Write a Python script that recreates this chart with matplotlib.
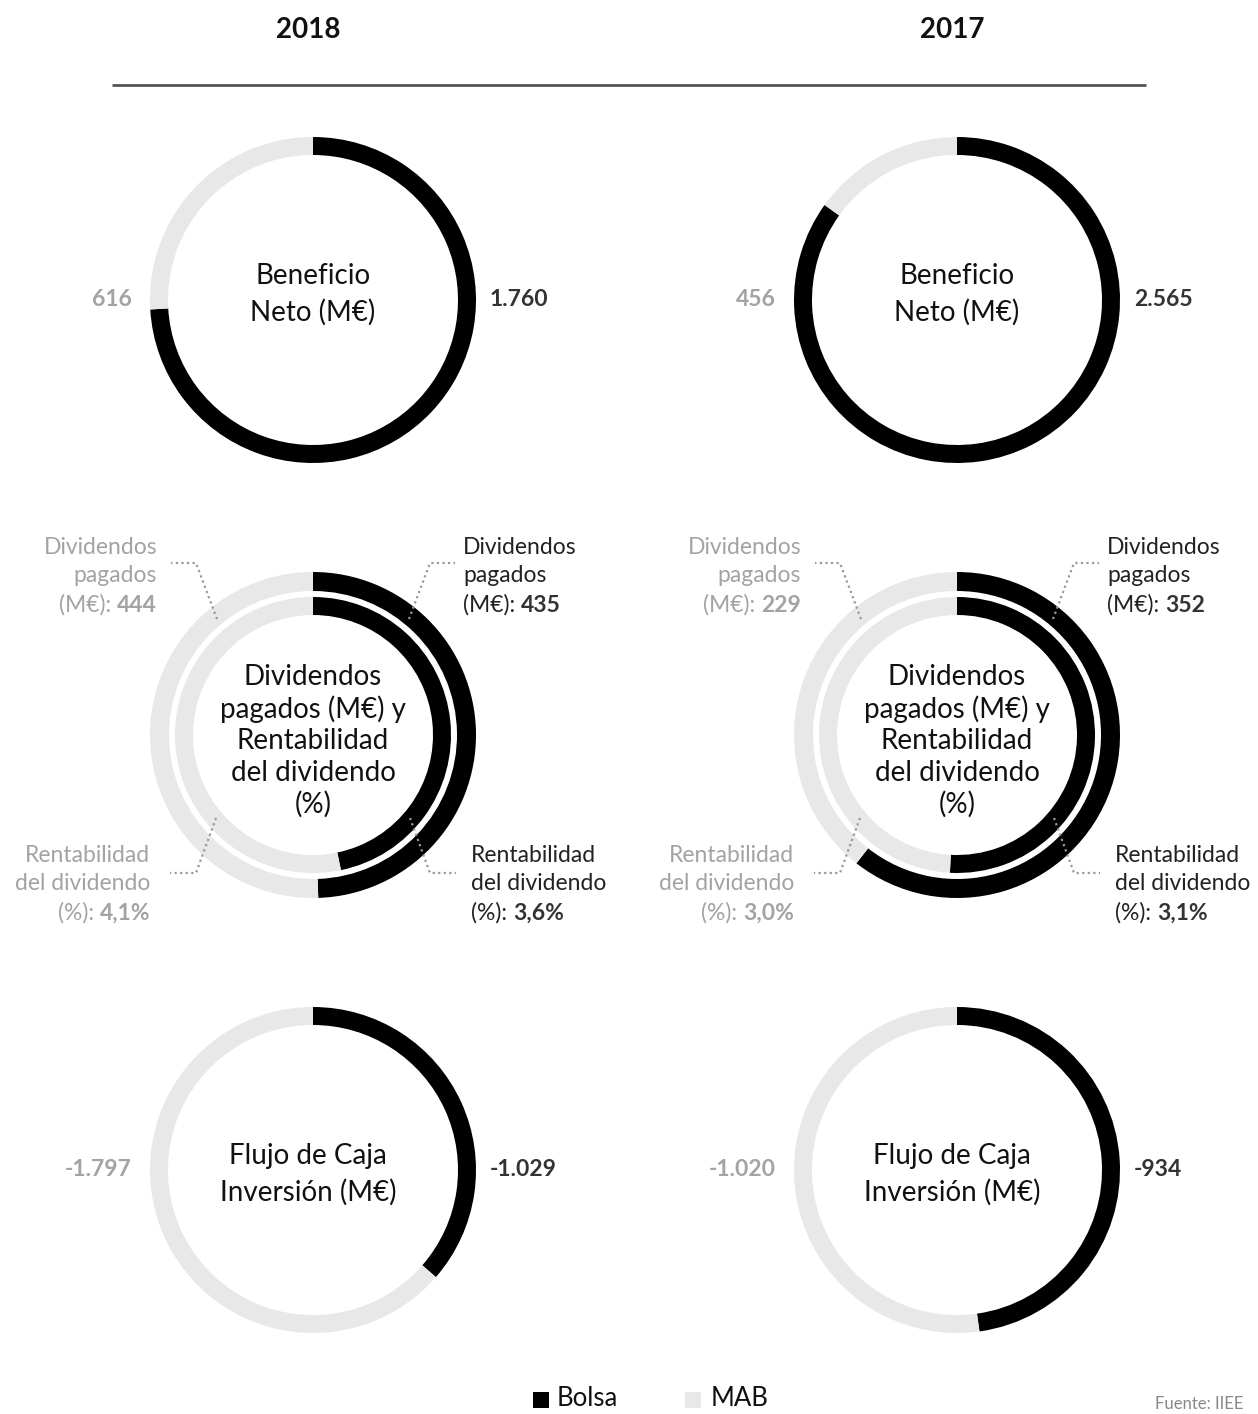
import matplotlib
matplotlib.use("Agg")
import matplotlib.pyplot as plt

plt.rcParams['font.family'] = ['Lato', 'DejaVu Sans']

# ---- data ----
years = ["2018", "2017"]
series = ["Bolsa", "MAB"]
beneficio_bolsa = [1760, 2565]
beneficio_mab = [616, 456]
beneficio_labels_bolsa = ["1.760", "2.565"]
beneficio_labels_mab = ["616", "456"]
div_bolsa = [435, 352]
div_mab = [444, 229]
rent_bolsa = [3.6, 3.1]
rent_mab = [4.1, 3.0]
rent_labels_bolsa = ["3,6%", "3,1%"]
rent_labels_mab = ["4,1%", "3,0%"]
flujo_bolsa = [-1029, -934]
flujo_mab = [-1797, -1020]
flujo_labels_bolsa = ["-1.029", "-934"]
flujo_labels_mab = ["-1.797", "-1.020"]

BLACK = "#000000"
LGRAY = "#e8e8e8"
TGRAY = "#a3a3a3"
DARK = "#333333"

W, H = 1258, 1414
fig = plt.figure(figsize=(W / 100, H / 100), dpi=100)
ax = fig.add_axes([0, 0, 1, 1])


def Y(y):
    return H - y


def donut(cx, cy, vals, r, w):
    ax.pie([abs(v) for v in vals], colors=[BLACK, LGRAY], startangle=90,
           counterclock=False, center=(cx, Y(cy)), radius=r,
           wedgeprops=dict(width=w, linewidth=0))


col_x = [313, 957]
row_y = [300, 735, 1170]

# headers
for cx, yr in zip(col_x, years):
    ax.text(cx - 5, Y(30), yr, ha="center", va="center", fontsize=20,
            fontweight="bold", color="#111111")
ax.plot([112, 1146], [Y(85), Y(85)], color="#555555", lw=2, solid_capstyle="butt")

center_fs = 20
val_fs = 16.5
ann_fs = 16.5

for i, cx in enumerate(col_x):
    # row 1
    cy = row_y[0]
    donut(cx, cy, [beneficio_bolsa[i], beneficio_mab[i]], 163, 18)
    ax.text(cx, Y(cy - 6), "Beneficio\nNeto (M€)", ha="center", va="center",
            fontsize=center_fs, linespacing=1.45, color="#111111")
    ax.text(cx + 177, Y(cy), beneficio_labels_bolsa[i], ha="left", va="center",
            fontsize=val_fs, fontweight="bold", color=DARK)
    ax.text(cx - 181, Y(cy), beneficio_labels_mab[i], ha="right", va="center",
            fontsize=val_fs, fontweight="bold", color=TGRAY)

    # row 2
    cy = row_y[1]
    donut(cx, cy, [div_bolsa[i], div_mab[i]], 163, 19)
    donut(cx, cy, [rent_bolsa[i], rent_mab[i]], 138, 18)
    ax.text(cx, Y(cy + 6), "Dividendos\npagados (M€) y\nRentabilidad\ndel dividendo\n(%)",
            ha="center", va="center", fontsize=center_fs, linespacing=1.25,
            color="#111111")
    # leaders
    for s in (1, -1):
        ax.plot([cx + s * 96, cx + s * 117, cx + s * 142],
                [Y(cy - 116), Y(cy - 172), Y(cy - 172)],
                color="#999999", lw=1.6, ls=(0, (1, 1.5)))
        ax.plot([cx + s * 97, cx + s * 117, cx + s * 143],
                [Y(cy + 83), Y(cy + 138), Y(cy + 138)],
                color="#999999", lw=1.6, ls=(0, (1, 1.5)))
    ls = 29
    # top right (Bolsa dividends)
    tx = cx + 150
    ax.text(tx, Y(cy - 188), "Dividendos", ha="left", va="center", fontsize=ann_fs, color="#222222")
    ax.text(tx, Y(cy - 188 + ls), "pagados", ha="left", va="center", fontsize=ann_fs, color="#222222")
    t = ax.text(tx, Y(cy - 188 + 2 * ls), "(M€): ", ha="left", va="center", fontsize=ann_fs, color="#222222")
    ax.annotate(f"{div_bolsa[i]}", xycoords=t, xy=(1, 0.5), ha="left", va="center",
                fontsize=ann_fs, fontweight="bold", color=DARK)
    # top left (MAB dividends)
    tx = cx - 156
    ax.text(tx, Y(cy - 188), "Dividendos", ha="right", va="center", fontsize=ann_fs, color=TGRAY)
    ax.text(tx, Y(cy - 188 + ls), "pagados", ha="right", va="center", fontsize=ann_fs, color=TGRAY)
    t = ax.text(tx, Y(cy - 188 + 2 * ls), f"{div_mab[i]}", ha="right", va="center",
                fontsize=ann_fs, fontweight="bold", color=TGRAY)
    ax.annotate("(M€): ", xycoords=t, xy=(0, 0.5), ha="right", va="center",
                fontsize=ann_fs, color=TGRAY)
    # bottom right (Bolsa yield)
    tx = cx + 158
    ax.text(tx, Y(cy + 120), "Rentabilidad", ha="left", va="center", fontsize=ann_fs, color="#222222")
    ax.text(tx, Y(cy + 120 + ls), "del dividendo", ha="left", va="center", fontsize=ann_fs, color="#222222")
    t = ax.text(tx, Y(cy + 120 + 2 * ls), "(%): ", ha="left", va="center", fontsize=ann_fs, color="#222222")
    ax.annotate(rent_labels_bolsa[i], xycoords=t, xy=(1, 0.5), ha="left", va="center",
                fontsize=ann_fs, fontweight="bold", color=DARK)
    # bottom left (MAB yield)
    tx = cx - 163
    ax.text(tx, Y(cy + 120), "Rentabilidad", ha="right", va="center", fontsize=ann_fs, color=TGRAY)
    ax.text(tx, Y(cy + 120 + ls), "del dividendo", ha="right", va="center", fontsize=ann_fs, color=TGRAY)
    t = ax.text(tx, Y(cy + 120 + 2 * ls), rent_labels_mab[i], ha="right", va="center",
                fontsize=ann_fs, fontweight="bold", color=TGRAY)
    ax.annotate("(%): ", xycoords=t, xy=(0, 0.5), ha="right", va="center",
                fontsize=ann_fs, color=TGRAY)

    # row 3
    cy = row_y[2]
    donut(cx, cy, [flujo_bolsa[i], flujo_mab[i]], 163, 18)
    ax.text(cx - 5, Y(cy + 4), "Flujo de Caja\nInversión (M€)", ha="center", va="center",
            fontsize=center_fs, linespacing=1.45, color="#111111")
    ax.text(cx + 177, Y(cy), flujo_labels_bolsa[i], ha="left", va="center",
            fontsize=val_fs, fontweight="bold", color=DARK)
    ax.text(cx - 181, Y(cy), flujo_labels_mab[i], ha="right", va="center",
            fontsize=val_fs, fontweight="bold", color=TGRAY)

# legend
ax.scatter([541], [Y(1400)], marker="s", s=120, color=BLACK, linewidths=0)
ax.text(557, Y(1399), series[0], ha="left", va="center", fontsize=18.5, color="#111111")
ax.scatter([693], [Y(1400)], marker="s", s=120, color=LGRAY, linewidths=0)
ax.text(711, Y(1399), series[1], ha="left", va="center", fontsize=18.5, color="#111111")

ax.text(1155, Y(1404), "Fuente: IIEE", ha="left", va="center", fontsize=12, color="#888888")

ax.set_xlim(0, W)
ax.set_ylim(0, H)
ax.set_aspect("auto")
ax.axis("off")

fig.savefig("out.png", dpi=100)
